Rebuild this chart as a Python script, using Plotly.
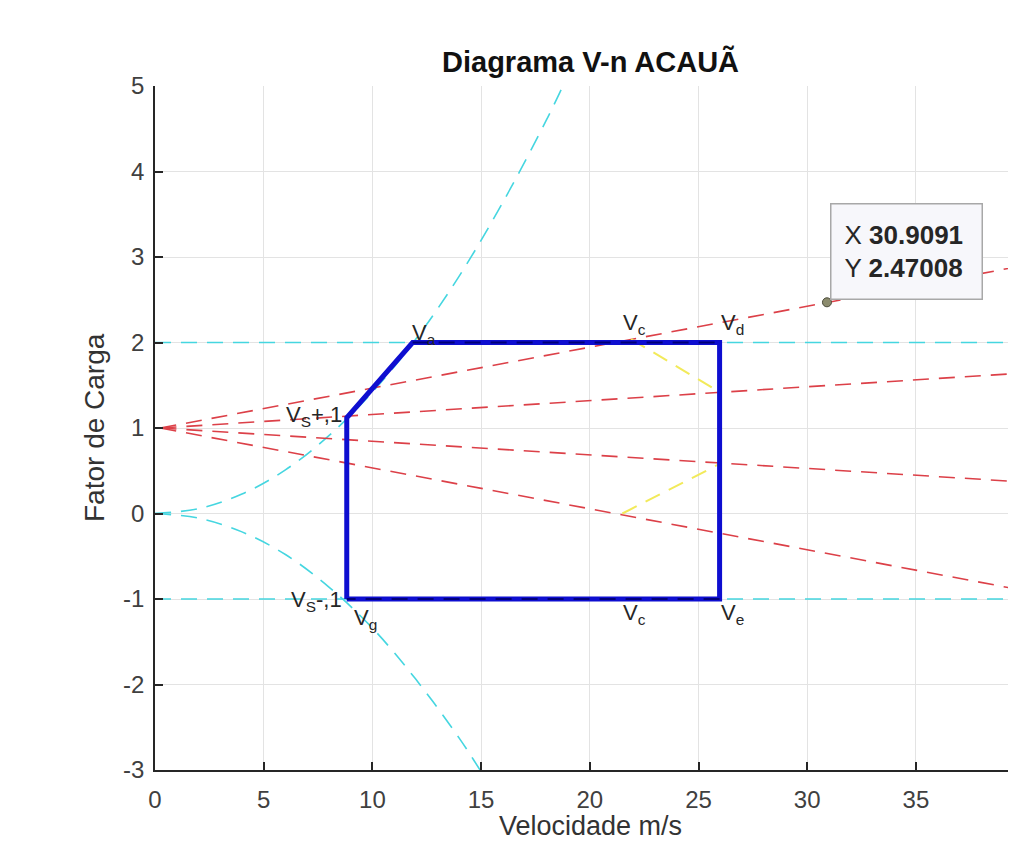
import plotly.graph_objects as go

# ---- data ----
# stall curves (positive / negative)
stall_pos_v = [0, 2, 4, 6, 8, 10, 12, 14, 16, 18, 19]
stall_pos_n = [0, 0.057, 0.227, 0.51, 0.91, 1.42, 2.04, 2.78, 3.64, 4.60, 5.13]
stall_neg_v = [0, 2, 4, 6, 8, 10, 12, 14, 15, 16]
stall_neg_n = [0, -0.054, -0.215, -0.48, -0.86, -1.34, -1.94, -2.63, -3.02, -3.44]

# limit load factor lines
limit_v = [0, 40]
limit_pos_n = [2, 2]
limit_neg_n = [-1, -1]

# gust lines
gust_v = [0.25, 40]
gust_n1 = [1.0, 2.902]
gust_n2 = [1.0, 1.644]
gust_n3 = [1.0, 0.368]
gust_n4 = [1.0, -0.902]

# gust envelope (yellow)
gust_env_up_v = [21.9, 25.97]
gust_env_up_n = [2.04, 1.42]
gust_env_lo_v = [21.5, 25.97]
gust_env_lo_n = [0.0, 0.58]

# V-n envelope (blue)
env_v = [8.82, 8.82, 11.85, 25.97, 25.97, 8.82]
env_n = [-1.0, 1.12, 2.0, 2.0, -1.0, -1.0]

# data tip
tip_v = 30.9091
tip_n = 2.47008

# labels
label_text = ["V<sub>a</sub>", "V<sub>c</sub>", "V<sub>d</sub>", "V<sub>g</sub>",
              "V<sub>c</sub>", "V<sub>e</sub>"]
label_v = [11.75, 21.45, 25.95, 9.05, 21.45, 25.95]
label_n = [2.10, 2.22, 2.22, -1.23, -1.17, -1.17]
vs_text = ["V<sub>S</sub>+,1", "V<sub>S</sub>-,1"]
vs_v = [8.68, 8.68]
vs_n = [1.14, -1.02]

x_ticks = [0, 5, 10, 15, 20, 25, 30, 35, 40]
y_ticks = [-3, -2, -1, 0, 1, 2, 3, 4, 5]

TITLE = "Diagrama V-n ACAUÃ"
XLABEL = "Velocidade m/s"
YLABEL = "Fator de Carga"

# ---- styling ----
FONT = "Liberation Sans, Arial, Helvetica, sans-serif"
CYAN = "#45d6e0"
RED = "#dc4048"
YELLOW = "#f2ea5a"
BLUE = "#0e0ed0"
DASH = "16px,10px"

fig = go.Figure()

def add_line(x, y, color, width=1.6, dash=DASH, shape="linear"):
    fig.add_trace(go.Scatter(x=x, y=y, mode="lines",
                             line=dict(color=color, width=width, dash=dash, shape=shape),
                             hoverinfo="skip", showlegend=False))

add_line(limit_v, limit_pos_n, CYAN)
add_line(limit_v, limit_neg_n, CYAN)
add_line(stall_pos_v, stall_pos_n, CYAN, shape="spline")
add_line(stall_neg_v, stall_neg_n, CYAN, shape="spline")
for gn in (gust_n1, gust_n2, gust_n3, gust_n4):
    add_line(gust_v, gn, RED)
add_line(gust_env_up_v, gust_env_up_n, YELLOW, width=2)
add_line(gust_env_lo_v, gust_env_lo_n, YELLOW, width=2)
add_line(env_v, env_n, BLUE, width=5, dash="solid")
add_line(env_v[2:4], env_n[2:4], "#00007a", width=2)
add_line(env_v[4:6], env_n[4:6], "#00007a", width=2)

# data tip marker
fig.add_trace(go.Scatter(x=[tip_v], y=[tip_n], mode="markers",
                         marker=dict(size=9, color="#8c8c6e", line=dict(color="#4a4a3a", width=1)),
                         hoverinfo="skip", showlegend=False))

# page geometry (the html body adds an 8px offset)
PLOT_L, PLOT_R, PLOT_T, PLOT_B = 155, 1008, 86, 770
PW, PH = PLOT_R - PLOT_L, PLOT_B - PLOT_T

def px_to_paper_x(px):
    return (px - PLOT_L) / PW

def px_to_paper_y(py):
    return (PLOT_B - py) / PH

annotations = []
for t, xv, yv in zip(label_text, label_v, label_n):
    annotations.append(dict(x=xv, y=yv, text=t, showarrow=False, xanchor="left",
                            yanchor="middle", font=dict(family=FONT, size=22, color="#262626")))
for t, xv, yv in zip(vs_text, vs_v, vs_n):
    annotations.append(dict(x=xv, y=yv, text=t, showarrow=False, xanchor="right",
                            yanchor="middle", font=dict(family=FONT, size=22, color="#262626")))
annotations.append(dict(x=tip_v, y=tip_n,
                        text=f"X <b>{tip_v:g}</b><br>Y <b>{tip_n:g}</b>",
                        showarrow=False, xanchor="left", yanchor="bottom", align="left",
                        width=124, height=68,
                        xshift=3, yshift=2, bgcolor="#f7f7fb", bordercolor="#a8a8a8",
                        borderwidth=1.5, borderpad=13,
                        font=dict(family=FONT, size=26, color="#262626")))
annotations.append(dict(x=px_to_paper_x(590), y=px_to_paper_y(62), xref="paper", yref="paper",
                        text=f"<b>{TITLE}</b>", showarrow=False, xanchor="center",
                        yanchor="middle", font=dict(family=FONT, size=29, color="#111111")))
annotations.append(dict(x=px_to_paper_x(590), y=px_to_paper_y(826), xref="paper", yref="paper",
                        text=XLABEL, showarrow=False, xanchor="center",
                        yanchor="middle", font=dict(family=FONT, size=27, color="#333333")))
annotations.append(dict(x=px_to_paper_x(94), y=px_to_paper_y(428), xref="paper", yref="paper",
                        text=YLABEL, showarrow=False, xanchor="center", textangle=-90,
                        yanchor="middle", font=dict(family=FONT, size=28, color="#333333")))

PX_PER_UNIT = 21.74
x_end = PW / PX_PER_UNIT

fig.update_layout(
    width=1000, height=833,
    margin=dict(l=PLOT_L - 8, r=1008 - PLOT_R, t=PLOT_T - 8, b=841 - PLOT_B),
    paper_bgcolor="white", plot_bgcolor="white",
    font=dict(family=FONT, size=24, color="#404040"),
    annotations=annotations,
    xaxis=dict(range=[0, x_end], tickvals=x_ticks, ticktext=[str(v) for v in x_ticks],
               showgrid=True, gridcolor="#e3e3e3", gridwidth=1, zeroline=False,
               showline=True, linecolor="#262626", linewidth=1.5,
               ticks="inside", ticklen=8, tickcolor="#262626", tickwidth=1.5,
               ticklabelstandoff=7,
               tickfont=dict(family=FONT, size=24, color="#404040")),
    yaxis=dict(range=[-3, 5], tickvals=y_ticks, ticktext=[str(v) for v in y_ticks],
               showgrid=True, gridcolor="#e3e3e3", gridwidth=1, zeroline=False,
               showline=True, linecolor="#262626", linewidth=1.5,
               ticks="inside", ticklen=8, tickcolor="#262626", tickwidth=1.5,
               ticklabelstandoff=4,
               tickfont=dict(family=FONT, size=24, color="#404040")),
)

fig.write_html("out.html")
